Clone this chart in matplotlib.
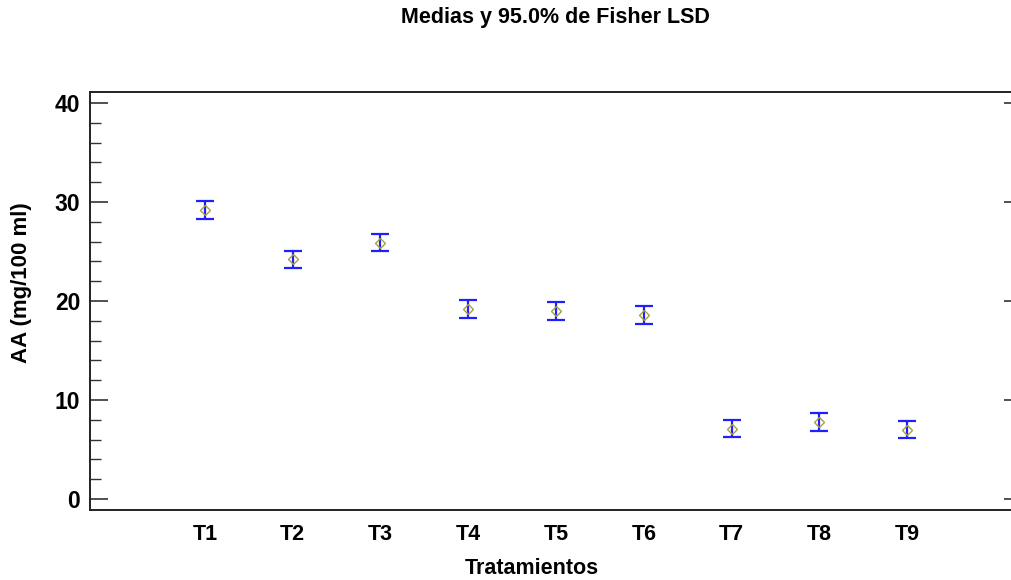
import matplotlib
matplotlib.use("Agg")
import matplotlib.pyplot as plt
from matplotlib.ticker import MultipleLocator

# Treatment labels, group means and LSD half-intervals (mg/100 ml)
treatments = ["T1", "T2", "T3", "T4", "T5", "T6", "T7", "T8", "T9"]
means = [29.2, 24.2, 25.9, 19.2, 19.0, 18.6, 7.1, 7.8, 7.0]
half_lsd = [0.88, 0.88, 0.88, 0.88, 0.88, 0.88, 0.88, 0.88, 0.88]
y_ticks = [0, 10, 20, 30, 40]

plt.rcParams["font.family"] = ["Liberation Sans", "DejaVu Sans"]

fig = plt.figure(figsize=(10.12, 5.8), dpi=100)
ax = fig.add_axes([90 / 1012, 70 / 580, (1022 - 90) / 1012, (510 - 92) / 580])

positions = list(range(1, len(treatments) + 1))

ax.errorbar(positions, means, yerr=half_lsd, fmt="none", ecolor="#2020ff",
            elinewidth=1.6, capsize=6.5, capthick=1.6, zorder=2)
ax.plot(positions, means, linestyle="none", marker="D", markersize=5.5,
        markerfacecolor="none", markeredgecolor="#a8a040", markeredgewidth=1.0,
        zorder=3)

ax.set_xlim(-0.31, 10.31)
ax.set_ylim(-1.1, 41.1)

ax.set_xticks(positions)
ax.set_xticklabels(treatments, fontsize=15.5, fontweight="bold")
ax.tick_params(axis="x", length=0, pad=10)

ax.set_yticks(y_ticks)
ax.set_yticklabels([str(v) for v in y_ticks], fontsize=16.5, fontweight="bold")
ax.yaxis.set_minor_locator(MultipleLocator(2))
ax.tick_params(axis="y", which="major", direction="in", length=13, width=1.2,
               color="#333333", right=True, pad=7)
ax.tick_params(axis="y", which="minor", direction="in", length=8, width=1.0,
               color="#333333", right=True)

for spine in ax.spines.values():
    spine.set_linewidth(1.4)
    spine.set_color("#222222")

fig.text(22 / 1012, 1 - 283 / 580, "AA (mg/100 ml)", fontsize=16,
         fontweight="bold", rotation=90, ha="center", va="center")
fig.text(532 / 1012, 1 - 568 / 580, "Tratamientos", fontsize=15.5,
         fontweight="bold", ha="center", va="center")
fig.text(555 / 1012, 1 - 18 / 580, "Medias y 95.0% de Fisher LSD", fontsize=15.5,
         fontweight="bold", ha="center", va="center")

fig.savefig("out.png", dpi=100)
